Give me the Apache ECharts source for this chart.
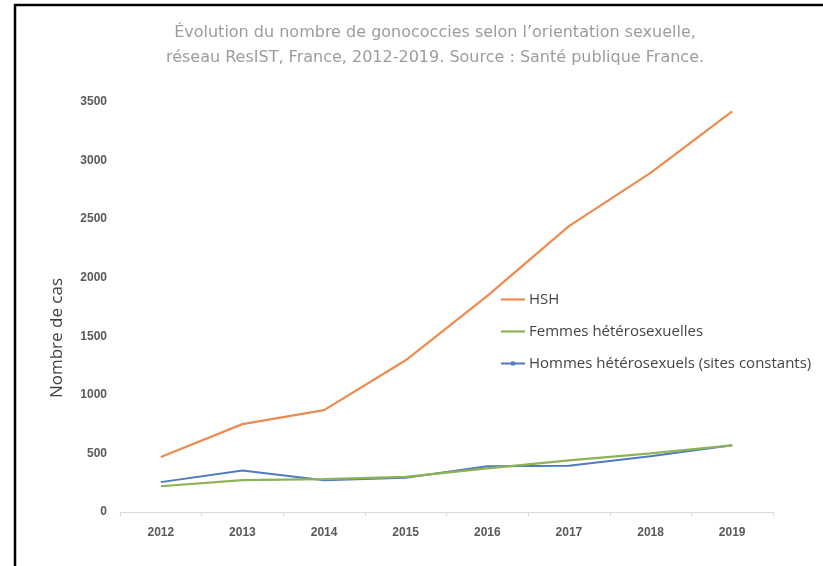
<!DOCTYPE html>
<html><head><meta charset="utf-8">
<script src="https://cdn.jsdelivr.net/npm/echarts@6/dist/echarts.min.js"></script>
<style>html,body{margin:0;padding:0;background:#fff}#c{width:823px;height:566px}</style>
</head><body><div id="c"></div>
<script>
const years = ['2012','2013','2014','2015','2016','2017','2018','2019'];
const hsh = [470, 750, 870, 1295, 1845, 2440, 2895, 3420];
const femmes = [220, 272, 280, 300, 372, 440, 500, 568];
const hommes = [255, 355, 272, 292, 390, 395, 475, 570];
const yTicks = [0, 500, 1000, 1500, 2000, 2500, 3000, 3500];

const chart = echarts.init(document.getElementById('c'));
chart.setOption({
  backgroundColor: '#fff',
  animation: false,
  title: {
    text: "Évolution du nombre de gonococcies selon l’orientation sexuelle,\nréseau ResIST, France, 2012-2019. Source : Santé publique France.",
    left: 430, textAlign: 'center', top: 15,
    textStyle: { fontFamily: 'DejaVu Sans', fontSize: 16, fontWeight: 'normal', color: '#9c9c9c', lineHeight: 25 }
  },
  graphic: [
    { type: 'line', shape: { x1: 14, y1: 5, x2: 823, y2: 5 }, style: { stroke: '#000', lineWidth: 2.5 } },
    { type: 'line', shape: { x1: 15, y1: 4, x2: 15, y2: 566 }, style: { stroke: '#000', lineWidth: 2.5 } }
  ],
  legend: {
    orient: 'vertical', left: 496, top: 287, itemGap: 17, itemWidth: 24, itemHeight: 10,
    textStyle: { fontFamily: 'Open Sans', fontSize: 15, color: '#444', padding: [0, 0, 0, -1] },
    data: [
      { name: 'HSH', icon: 'path://M0,4L24,4L24,6.2L0,6.2Z' },
      { name: 'Femmes hétérosexuelles', icon: 'path://M0,4L24,4L24,6.2L0,6.2Z' },
      { name: 'Hommes hétérosexuels (sites constants)', icon: 'path://M0,4L24,4L24,6L0,6Z M10,3L14,3L14,7L10,7Z' }
    ]
  },
  grid: { left: 120, right: 50, top: 102, bottom: 54 },
  xAxis: {
    type: 'category', data: years, boundaryGap: true,
    axisLine: { lineStyle: { color: '#d9d9d9', width: 1 } },
    axisTick: { show: true, lineStyle: { color: '#d9d9d9' }, length: 4 },
    axisLabel: { fontFamily: 'Liberation Sans', fontSize: 12, fontWeight: 'bold', color: '#595959', margin: 15 }
  },
  yAxis: {
    type: 'value', min: 0, max: 3500, interval: 500,
    name: 'Nombre de cas', nameLocation: 'middle', nameGap: 54,
    nameTextStyle: { fontFamily: 'Open Sans', fontSize: 17, color: '#404040', padding: [0, 62, 0, 0] },
    axisLine: { show: false }, axisTick: { show: false }, splitLine: { show: false },
    axisLabel: { fontFamily: 'Liberation Sans', fontSize: 12, fontWeight: 'bold', color: '#595959', margin: 13,
      formatter: v => yTicks.includes(v) ? String(v) : '' }
  },
  series: [
    { name: 'HSH', type: 'line', data: hsh, symbol: 'none', lineStyle: { color: '#ED8B4F', width: 2.2 }, itemStyle: { color: '#ED8B4F' } },
    { name: 'Femmes hétérosexuelles', type: 'line', data: femmes, symbol: 'none', lineStyle: { color: '#8DB356', width: 2.2 }, itemStyle: { color: '#8DB356' } },
    { name: 'Hommes hétérosexuels (sites constants)', type: 'line', data: hommes, symbol: 'none', z: 1, lineStyle: { color: '#4F7BC0', width: 2 }, itemStyle: { color: '#4F7BC0' } }
  ]
});
</script></body></html>
